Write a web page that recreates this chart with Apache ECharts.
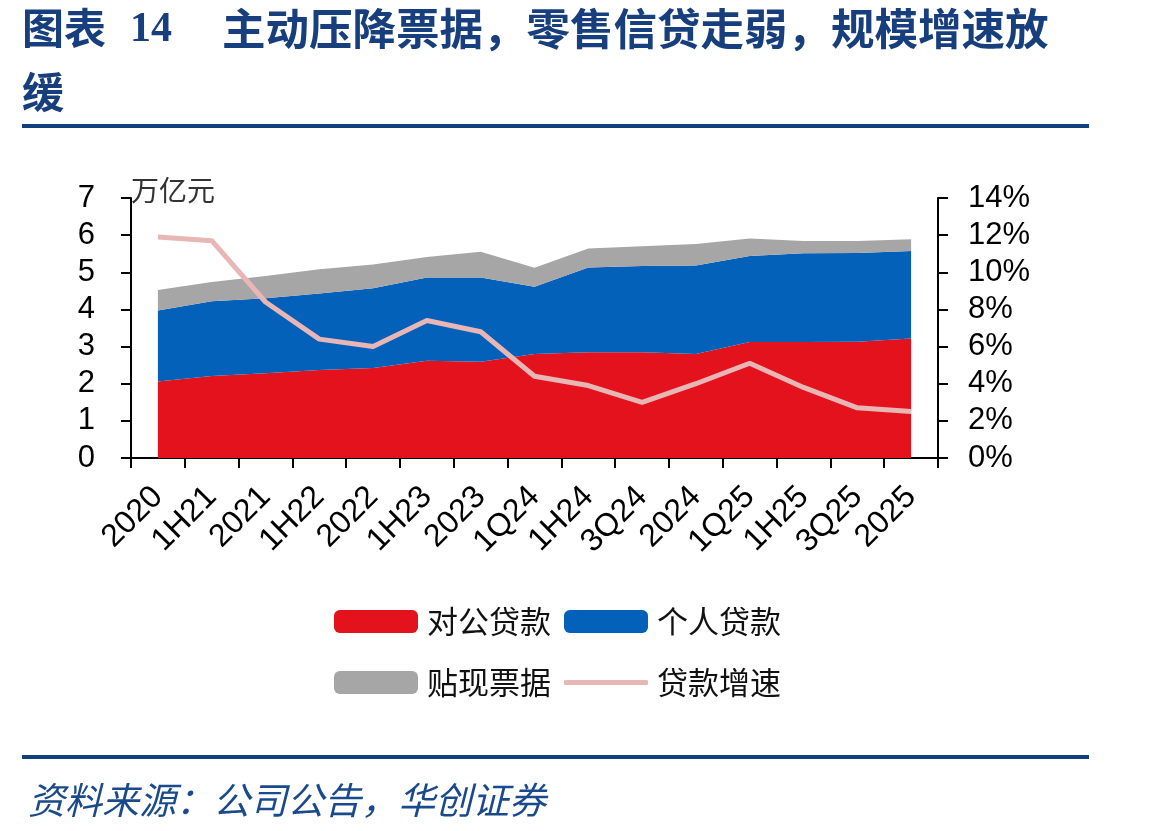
<!DOCTYPE html>
<html>
<head>
<meta charset="utf-8">
<script src="https://cdn.jsdelivr.net/npm/echarts@6/dist/echarts.min.js"></script>
<style>
  html, body { margin: 0; padding: 0; background: #fff; }
  #chart { width: 1149px; height: 831px; }
</style>
</head>
<body>
<div id="chart"></div>
<script>
const categories = ['2020', '1H21', '2021', '1H22', '2022', '1H23', '2023', '1Q24', '1H24', '3Q24', '2024', '1Q25', '1H25', '3Q25', '2025'];
// 万亿元
const corporateLoans = [2.06, 2.21, 2.28, 2.37, 2.42, 2.62, 2.59, 2.80, 2.85, 2.85, 2.80, 3.12, 3.12, 3.13, 3.22];
const personalLoans = [1.91, 2.01, 2.02, 2.06, 2.15, 2.24, 2.27, 1.81, 2.28, 2.32, 2.38, 2.32, 2.39, 2.39, 2.35];
const discountBills = [0.55, 0.52, 0.60, 0.65, 0.64, 0.55, 0.69, 0.51, 0.51, 0.53, 0.58, 0.47, 0.33, 0.32, 0.32];
// %
const loanGrowth = [11.9, 11.7, 8.4, 6.4, 6.0, 7.4, 6.8, 4.4, 3.9, 3.0, 4.0, 5.1, 3.8, 2.7, 2.5];

const leftTicks = { min: 0, max: 7, interval: 1 };
const rightTicks = { min: 0, max: 14, interval: 2 };

const latin = '"Liberation Sans", Arial, sans-serif';
const cjk = '"Noto Sans CJK SC", sans-serif';
const navy = '#173f7d';

const chart = echarts.init(document.getElementById('chart'));

const axisBlack = { lineStyle: { color: '#000', width: 2 } };
const tickBlack = { show: true, inside: false, length: 10, lineStyle: { color: '#000', width: 2 } };

const legendBase = {
  orient: 'horizontal',
  padding: 0,
  itemWidth: 84,
  itemHeight: 23,
  textStyle: { fontSize: 31, color: '#111', fontFamily: cjk, padding: [0, 0, 0, 4] }
};

chart.setOption({
  animation: false,
  grid: { left: 131, right: 211, top: 198, bottom: 373, containLabel: false },
  legend: [
    Object.assign({}, legendBase, { left: 334, top: 606, data: [{ name: '对公贷款', icon: 'roundRect' }] }),
    Object.assign({}, legendBase, { left: 564, top: 606, data: [{ name: '个人贷款', icon: 'roundRect' }] }),
    Object.assign({}, legendBase, { left: 334, top: 667, data: [{ name: '贴现票据', icon: 'roundRect' }] }),
    Object.assign({}, legendBase, { left: 564, top: 667, itemHeight: 5, data: [{ name: '贷款增速', icon: 'roundRect' }] })
  ],
  xAxis: {
    type: 'category',
    data: categories,
    boundaryGap: true,
    axisLine: axisBlack,
    axisTick: tickBlack,
    axisLabel: { rotate: 45, fontSize: 32, color: '#000', fontFamily: latin, margin: 34, interval: 0 }
  },
  yAxis: [
    {
      type: 'value',
      min: leftTicks.min,
      max: leftTicks.max,
      interval: leftTicks.interval,
      name: '万亿元',
      nameLocation: 'end',
      nameGap: 8,
      nameTextStyle: { fontSize: 28, color: '#333', fontFamily: cjk, align: 'left', verticalAlign: 'middle' },
      axisLine: Object.assign({ show: true }, axisBlack),
      axisTick: tickBlack,
      splitLine: { show: false },
      axisLabel: { fontSize: 31, color: '#000', fontFamily: latin, margin: 36 }
    },
    {
      type: 'value',
      min: rightTicks.min,
      max: rightTicks.max,
      interval: rightTicks.interval,
      position: 'right',
      axisLine: Object.assign({ show: true }, axisBlack),
      axisTick: tickBlack,
      splitLine: { show: false },
      axisLabel: { fontSize: 31, color: '#000', fontFamily: latin, margin: 30, formatter: '{value}%' }
    }
  ],
  series: [
    {
      name: '对公贷款',
      type: 'line',
      stack: 'loans',
      symbol: 'none',
      data: corporateLoans,
      itemStyle: { color: '#e3121c' },
      lineStyle: { width: 0 },
      areaStyle: { color: '#e3121c', opacity: 1 }
    },
    {
      name: '个人贷款',
      type: 'line',
      stack: 'loans',
      symbol: 'none',
      data: personalLoans,
      itemStyle: { color: '#0461b9' },
      lineStyle: { width: 0 },
      areaStyle: { color: '#0461b9', opacity: 1 }
    },
    {
      name: '贴现票据',
      type: 'line',
      stack: 'loans',
      symbol: 'none',
      data: discountBills,
      itemStyle: { color: '#a6a6a6' },
      lineStyle: { width: 0 },
      areaStyle: { color: '#a6a6a6', opacity: 1 }
    },
    {
      name: '贷款增速',
      type: 'line',
      yAxisIndex: 1,
      symbol: 'none',
      z: 5,
      data: loanGrowth,
      itemStyle: { color: '#e9b6b6' },
      lineStyle: { width: 5, color: '#e9b6b6' }
    }
  ],
  graphic: [
    {
      type: 'text', x: 22, y: 28,
      style: { text: '图表', fontSize: 42, fontWeight: 'bold', fontFamily: cjk, fill: navy, verticalAlign: 'middle' }
    },
    {
      type: 'text', x: 130, y: 30,
      style: { text: '14', fontSize: 42, fontWeight: 'bold', fontFamily: '"Liberation Serif", serif', fill: navy, verticalAlign: 'middle' }
    },
    {
      type: 'text', x: 222, y: 28,
      style: { text: '主动压降票据，零售信贷走弱，规模增速放', fontSize: 43.5, fontWeight: 'bold', fontFamily: cjk, fill: navy, verticalAlign: 'middle' }
    },
    {
      type: 'text', x: 22, y: 92,
      style: { text: '缓', fontSize: 42, fontWeight: 'bold', fontFamily: cjk, fill: navy, verticalAlign: 'middle' }
    },
    {
      type: 'rect', shape: { x: 22, y: 124, width: 1067, height: 4 },
      style: { fill: '#123f7e' }
    },
    {
      type: 'rect', shape: { x: 22, y: 755, width: 1067, height: 4 },
      style: { fill: '#123f7e' }
    },
    {
      type: 'text', x: 28, y: 800,
      style: { text: '资料来源：公司公告，华创证券', fontSize: 37, fontStyle: 'italic', fontFamily: cjk, fill: '#1b4a8c', verticalAlign: 'middle' }
    }
  ]
});
</script>
</body>
</html>
